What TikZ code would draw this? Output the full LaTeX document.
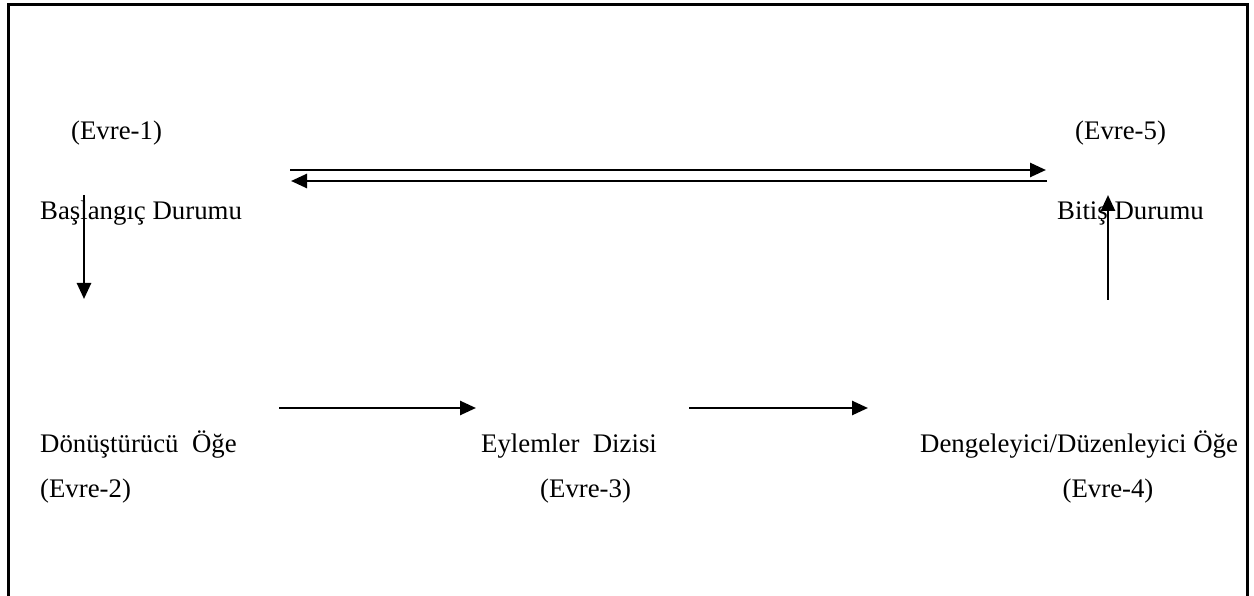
\documentclass[tikz,border=0pt]{standalone}
\usepackage{fontspec}
\setmainfont{Liberation Serif}
\usetikzlibrary{arrows.meta}

\tikzset{
  lbl/.style={anchor=base west, inner sep=0pt, font=\fontsize{26.8}{32}\selectfont},
  lblc/.style={anchor=base, inner sep=0pt, font=\fontsize{26.8}{32}\selectfont},
  flow/.style={line width=2.6pt, -{Triangle[length=16pt,width=14pt]}},
  frame/.style={line width=3pt}
}

\begin{document}
\begin{tikzpicture}[x=1pt,y=-1pt]
  \useasboundingbox (0,0) rectangle (1254,596);

  % open frame (no bottom edge)
  \draw[frame] (8,596) -- (8,5) -- (1247,5) -- (1247,596);

  % phase labels
  \node[lbl] (e1) at (71,140) {(Evre-1)};
  \node[lbl] (bas) at (40,220) {Başlangıç Durumu};
  \node[lbl] (e5) at (1075,140) {(Evre-5)};
  \node[lbl] (bit) at (1057,220) {Bitiş Durumu};
  \node[lbl] (don) at (40,452) {Dönüştürücü\ \ Öğe};
  \node[lbl] (e2) at (40,497) {(Evre-2)};
  \node[lbl] (eyl) at (481,452) {Eylemler\ \ Dizisi};
  \node[lbl] (e3) at (540,497) {(Evre-3)};
  \node[lbl] (den) at (920,452) {Dengeleyici/Düzenleyici Öğe};
  \node[lblc] (e4) at (1108,497) {(Evre-4)};

  % arrow end points
  \coordinate (topA) at (290,170);
  \coordinate (topB) at (1046,170);
  \coordinate (botA) at (1047,181);
  \coordinate (botB) at (291,181);
  \coordinate (downA) at (84,195);
  \coordinate (downB) at (84,299);
  \coordinate (upA) at (1108,300);
  \coordinate (upB) at (1108,195);
  \coordinate (r1A) at (279,408);
  \coordinate (r1B) at (476,408);
  \coordinate (r2A) at (689,408);
  \coordinate (r2B) at (868,408);

  % connectors
  \draw[flow] (topA) -- (topB);
  \draw[flow] (botA) -- (botB);
  \draw[flow] (downA) -- (downB);
  \draw[flow] (upA) -- (upB);
  \draw[flow] (r1A) -- (r1B);
  \draw[flow] (r2A) -- (r2B);
\end{tikzpicture}
\end{document}
